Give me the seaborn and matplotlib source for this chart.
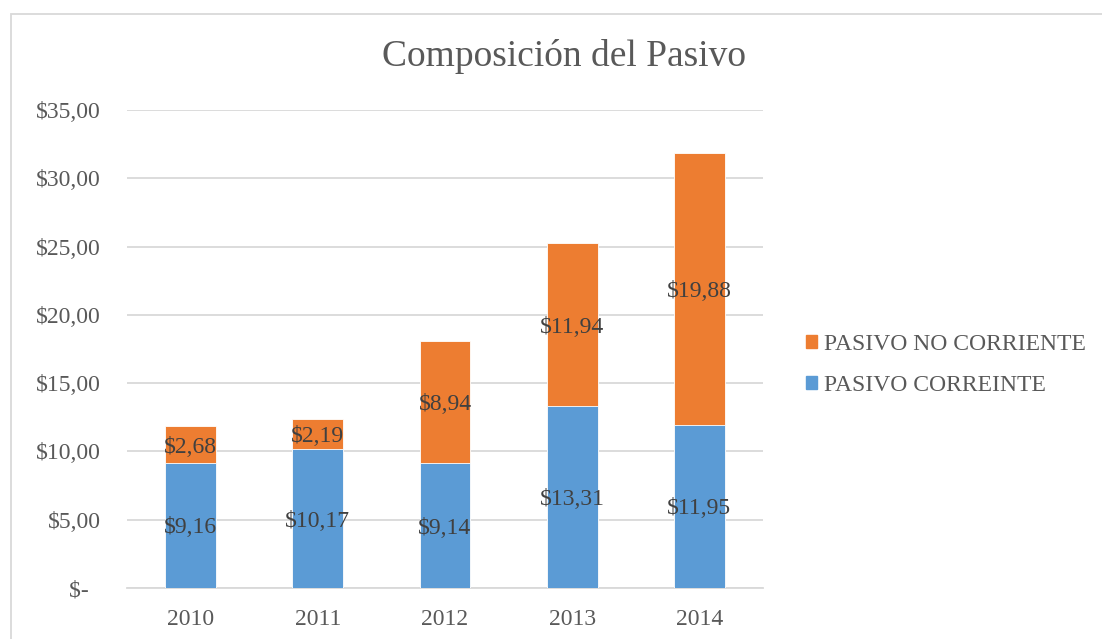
import numpy as np
import pandas as pd
import matplotlib.pyplot as plt
import seaborn as sns
from matplotlib.patches import Patch, Rectangle

years = ['2010', '2011', '2012', '2013', '2014']
corriente = [9.16, 10.17, 9.14, 13.31, 11.95]
no_corriente = [2.68, 2.19, 8.94, 11.94, 19.88]

azul = '#5B9BD5'
naranja = '#ED7D31'

df = pd.DataFrame({'anio': years, 'corriente': corriente, 'no_corriente': no_corriente})
df['total'] = df['corriente'] + df['no_corriente']

sns.set_style('white')
plt.rcParams['font.family'] = ['Liberation Serif', 'DejaVu Serif']

fig = plt.figure(figsize=(11.02, 6.39), dpi=100)
ax = fig.add_axes([127 / 1102, 1 - 588 / 639, 636 / 1102, 478 / 639])

# apilado: total naranja detras, corriente azul delante
sns.barplot(data=df, x='anio', y='total', color=naranja, width=0.4, saturation=1,
            edgecolor='white', linewidth=0.6, ax=ax, zorder=3)
sns.barplot(data=df, x='anio', y='corriente', color=azul, width=0.4, saturation=1,
            edgecolor='white', linewidth=0.6, ax=ax, zorder=3)

fmt = lambda v: ('$%.2f' % v).replace('.', ',')
for i, row in df.iterrows():
    ax.text(i, row['corriente'] / 2, fmt(row['corriente']), ha='center', va='center_baseline',
            fontsize=17, color='#404040', zorder=5)
    ax.text(i, row['corriente'] + row['no_corriente'] / 2, fmt(row['no_corriente']),
            ha='center', va='center_baseline', fontsize=17, color='#404040', zorder=5)

ax.set_xlim(-0.5, 4.5)
ax.set_ylim(0, 35)
yt = np.arange(0, 36, 5)
ax.set_yticks(yt)
ax.set_yticklabels(['$-  ' if v == 0 else fmt(v) for v in yt])
ax.yaxis.grid(True, color='#D9D9D9', linewidth=1.3, zorder=0)
ax.set_axisbelow(True)
ax.tick_params(axis='y', length=0, pad=19, labelsize=17, labelcolor='#595959')
ax.tick_params(axis='x', length=0, pad=15, labelsize=17, labelcolor='#595959')
ax.set_xlabel('')
ax.set_ylabel('')
for s in ['top', 'right', 'left']:
    ax.spines[s].set_visible(False)
ax.spines['bottom'].set_color('#D9D9D9')
ax.spines['bottom'].set_linewidth(1.3)

fig.text(564 / 1102, 1 - 57 / 639, 'Composición del Pasivo', ha='center', va='center',
         fontsize=27, color='#595959')

handles = [Patch(color=naranja, label='PASIVO NO CORRIENTE'),
           Patch(color=azul, label='PASIVO CORREINTE')]
fig.legend(handles=handles, loc='center left', bbox_to_anchor=(785 / 1102, 1 - 365 / 639),
           frameon=False, fontsize=17, handlelength=0.45, handleheight=0.45,
           handletextpad=0.3, labelspacing=0.85, labelcolor='#595959')

# marco del grafico
fig.patches.append(Rectangle((11 / 1102, -0.1), 1.2, 1 - 14 / 639 + 0.1,
                             transform=fig.transFigure, fill=False,
                             edgecolor='#D9D9D9', linewidth=1.3))

fig.savefig('out.png', dpi=100)
